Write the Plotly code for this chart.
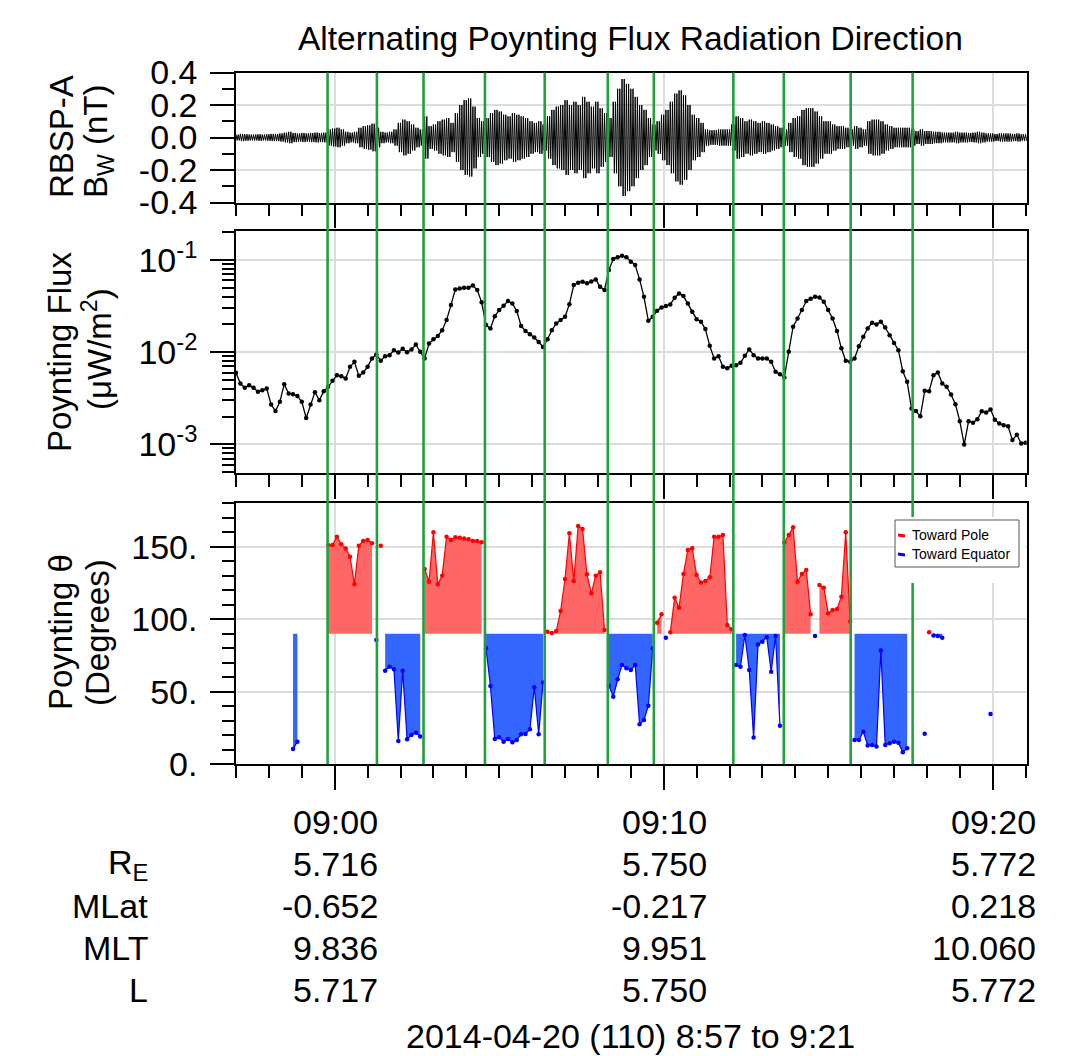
import numpy as np
import pandas as pd
import plotly.graph_objects as go

W, H = 1068, 1056
FONT = "Liberation Sans, Arial, Helvetica, sans-serif"

# ---------------- data ----------------
START = "2014-04-20 08:57:00"
CADENCE_S = 8
RANGE_X = ["2014-04-20 08:57:00", "2014-04-20 09:21:02"]

# Poynting flux (uW/m^2), one value every 8 s
flux = [0.00596,0.00456,0.00410,0.00438,0.00410,0.00371,0.00386,0.00403,0.00270,0.00230,
        0.00289,0.00449,0.00355,0.00350,0.00335,0.00289,0.00193,0.00270,0.00368,0.00301,
        0.00377,0.00420,0.00488,0.00562,0.00548,0.00517,0.00693,0.00785,0.00553,0.00601,
        0.00693,0.00853,0.00943,0.00805,0.00905,0.00928,0.0105,0.00992,0.0109,0.0100,
        0.0107,0.0121,0.0101,0.00853,0.0124,0.0138,0.0150,0.0173,0.0223,0.0324,
        0.0480,0.0492,0.0500,0.0500,0.0530,0.0472,0.0347,0.0197,0.0181,0.0246,
        0.0286,0.0319,0.0358,0.0338,0.0279,0.0192,0.0170,0.0156,0.0144,0.0129,
        0.0114,0.0138,0.0173,0.0205,0.0223,0.0242,0.0332,0.0535,0.0567,0.0581,
        0.0558,0.0586,0.0616,0.0513,0.0472,0.0778,0.1025,0.1069,0.1115,0.1069,
        0.0959,0.0882,0.0616,0.0399,0.0219,0.0242,0.0281,0.0306,0.0316,0.0330,
        0.0390,0.0434,0.0406,0.0338,0.0274,0.0228,0.0214,0.0178,0.0117,0.00853,
        0.00905,0.00693,0.00670,0.00710,0.00722,0.00766,0.00912,0.0107,0.00928,0.00853,
        0.00853,0.00853,0.00785,0.00611,0.00577,0.00530,0.0101,0.0189,0.0232,0.0286,
        0.0358,0.0380,0.0399,0.0393,0.0352,0.0286,0.0232,0.0170,0.0110,0.00805,
        0.00785,0.00853,0.0116,0.0147,0.0181,0.0208,0.0200,0.0214,0.0185,0.0153,
        0.0126,0.0105,0.00621,0.00476,0.00244,0.00230,0.00201,0.00380,0.00377,0.00562,
        0.00601,0.00456,0.00420,0.00347,0.00272,0.00178,0.000992,0.00178,0.00171,0.00187,
        0.00228,0.00221,0.00238,0.00185,0.00168,0.00161,0.00157,0.00111,0.00127,0.00102,
        0.00104]

# Bw wave envelope amplitude (nT) per 8 s bin
bw_envelope = [0.018,0.022,0.02,0.018,0.018,0.02,0.018,0.02,0.022,0.022,
               0.025,0.03,0.035,0.028,0.025,0.028,0.025,0.028,0.03,0.028,
               0.03,0.05,0.055,0.06,0.05,0.035,0.03,0.035,0.06,0.07,
               0.075,0.085,0.06,0.035,0.03,0.035,0.05,0.09,0.11,0.1,
               0.08,0.06,0.05,0.13,0.07,0.08,0.1,0.11,0.12,0.09,
               0.15,0.2,0.23,0.24,0.19,0.12,0.1,0.12,0.15,0.17,
               0.16,0.14,0.13,0.15,0.14,0.13,0.12,0.1,0.09,0.1,
               0.08,0.13,0.17,0.19,0.2,0.23,0.2,0.22,0.2,0.25,
               0.22,0.19,0.22,0.18,0.15,0.12,0.22,0.3,0.36,0.33,
               0.3,0.25,0.2,0.17,0.12,0.08,0.1,0.14,0.17,0.22,
               0.27,0.29,0.26,0.2,0.14,0.12,0.09,0.05,0.045,0.045,
               0.05,0.05,0.05,0.08,0.13,0.12,0.1,0.11,0.1,0.09,
               0.1,0.09,0.08,0.07,0.06,0.05,0.09,0.12,0.13,0.17,
               0.18,0.18,0.16,0.13,0.1,0.1,0.08,0.07,0.07,0.06,
               0.05,0.07,0.06,0.05,0.1,0.11,0.11,0.1,0.08,0.07,
               0.06,0.06,0.06,0.06,0.05,0.04,0.05,0.04,0.04,0.035,
               0.035,0.03,0.03,0.03,0.035,0.03,0.03,0.028,0.03,0.035,
               0.03,0.025,0.025,0.022,0.025,0.025,0.025,0.022,0.025,0.02,
               0.02]

# Poynting theta (degrees): (start sample index, values)
POLE_SEGMENTS = [
    (21, [151.2, 151.2, 157.0, 151.7, 148.9, 143.2, 124.1, 150.8, 154.0, 154.7, 152.4]),
    (33, [150.8]),
    (43, [134.7, 125.9, 160.0, 124.1, 130.1, 157.0, 154.7, 156.5, 156.3, 155.8, 155.2, 154.0, 154.0, 153.1]),
    (71, [91.5, 90.5, 91.9, 105.7, 127.8, 159.3, 126.4, 164.4, 162.3, 131.0, 117.9, 130.1, 132.4, 92.6]),
    (96, [97.7, 103.4]),
    (99, [91.0, 114.9, 108.0, 131.3, 147.8, 149.0, 130.6, 125.3, 126.4, 129.0, 157.0, 157.0, 158.1, 96.1, 93.1]),
    (125, [152.9, 158.1, 163.4, 125.9, 131.3, 134.0, 103.4]),
    (133, [123.7, 121.8, 104.1, 106.4, 107.1, 115.6, 160.0, 98.4]),
    (158, [91.0]),
]
EQUATOR_SEGMENTS = [
    (13, [10.6, 15.6]),
    (32, [85.7]),
    (34, [64.6, 67.3, 65.5, 16.1, 64.6, 17.2, 20.2, 21.8, 19.1]),
    (57, [80.0, 54.0, 17.4, 18.6, 15.6, 17.4, 15.2, 16.8, 20.7, 20.9, 24.1, 53.1, 20.7, 56.5]),
    (85, [54.2, 46.6, 58.6, 68.5, 66.2, 65.0, 68.5, 27.6, 30.6, 40.4, 80.0]),
    (98, [87.3]),
    (114, [68.5, 67.3, 89.2, 65.0, 18.4, 82.7, 84.6, 87.6, 63.9, 88.5, 26.6]),
    (132, [88.5]),
    (141, [16.8, 16.8, 22.5, 12.9, 13.3, 12.2, 78.4, 13.3, 14.5, 15.6, 14.9, 8.3, 11.0]),
    (157, [21.1]),
    (159, [88.9, 88.5, 87.3]),
    (172, [34.7]),
]
THETA_BASE = 90

GREEN_TIMES = ["08:59:47", "09:01:17", "09:02:42", "09:04:34", "09:06:23", "09:08:18",
               "09:09:42", "09:12:07", "09:13:39", "09:15:41", "09:17:34"]

EPH_TIMES = ["09:00", "09:10", "09:20"]
EPH_ROWS = [
    ("R<sub>E</sub>", ["5.716", "5.750", "5.772"]),
    ("MLat", ["-0.652", "-0.217", "0.218"]),
    ("MLT", ["9.836", "9.951", "10.060"]),
    ("L", ["5.717", "5.750", "5.772"]),
]
DATE_LINE = "2014-04-20 (110) 8:57 to 9:21"
TITLE = "Alternating Poynting Flux Radiation Direction"

# ---------------- helpers ----------------
def px(x):
    return x / W

def py(y):
    return 1 - y / H

DAY = START[:10]
times = pd.Timestamp(START) + pd.to_timedelta(np.arange(len(flux)) * CADENCE_S, unit="s")

def full_series(segments):
    arr = [None] * len(times)
    for s, vals in segments:
        for k, v in enumerate(vals):
            arr[s + k] = v
    return arr

X_DOM = [px(236), px(1026.7)]
Y1_DOM = [py(202.5), py(72.5)]
Y2_DOM = [py(473.3), py(231)]
Y3_DOM = [py(764.3), py(503.3)]

GRID = "#dcdcdc"
GREEN = "#22a03a"
RED, RED_FILL = "#ff0000", "#ff6666"
BLUE, BLUE_FILL = "#0000ff", "#3366ff"

fig = go.Figure()

# --- top: wave field, drawn as alternating +/- envelope strokes within each bin
SUB = 4
step = pd.Timedelta(seconds=CADENCE_S / SUB)
wx, wy = [], []
for t, a in zip(times, bw_envelope):
    for k in range(SUB):
        wx.append(t + k * step)
        wy.append(a if k % 2 == 0 else -a)
fig.add_trace(go.Scatter(x=wx, y=wy, mode="lines", line=dict(color="black", width=1),
                         xaxis="x", yaxis="y", hoverinfo="skip"))

# --- middle: Poynting flux
fig.add_trace(go.Scatter(x=times, y=flux, mode="lines+markers",
                         line=dict(color="black", width=1.3),
                         marker=dict(color="black", size=4.5),
                         xaxis="x2", yaxis="y2"))

# --- bottom: theta with fills to 90
for segs, fc in ((POLE_SEGMENTS, RED_FILL), (EQUATOR_SEGMENTS, BLUE_FILL)):
    for s, vals in segs:
        if len(vals) < 2:
            continue
        ts = list(times[s:s + len(vals)])
        fig.add_trace(go.Scatter(x=[ts[0]] + ts + [ts[-1]],
                                 y=[THETA_BASE] + vals + [THETA_BASE],
                                 fill="toself", fillcolor=fc, mode="lines",
                                 line=dict(width=0, color=fc), hoverinfo="skip",
                                 xaxis="x3", yaxis="y3"))
fig.add_trace(go.Scatter(x=times, y=full_series(POLE_SEGMENTS), mode="lines+markers",
                         line=dict(color=RED, width=1.2), marker=dict(color=RED, size=4.5),
                         connectgaps=False, name="Toward Pole", xaxis="x3", yaxis="y3"))
fig.add_trace(go.Scatter(x=times, y=full_series(EQUATOR_SEGMENTS), mode="lines+markers",
                         line=dict(color=BLUE, width=1.2), marker=dict(color=BLUE, size=4.5),
                         connectgaps=False, name="Toward Equator", xaxis="x3", yaxis="y3"))

# ---------------- axes ----------------
TICKFONT = dict(family=FONT, size=34, color="black")
common_x = dict(type="date", range=RANGE_X, domain=X_DOM, showgrid=True, gridcolor=GRID,
                gridwidth=1.5, tick0=DAY + " 09:00:00", dtick=600000, ticks="outside",
                ticklen=24, tickwidth=1.5, tickcolor="black", showticklabels=False,
                showline=True, linecolor="black", linewidth=1.5, mirror=True, zeroline=False,
                automargin=False,
                minor=dict(dtick=60000, tick0=DAY + " 09:00:00", ticks="outside", ticklen=12,
                           tickwidth=1.5, tickcolor="black", showgrid=False))
common_y = dict(ticks="outside", ticklen=24, tickwidth=1.5, tickcolor="black",
                showline=True, linecolor="black", linewidth=1.5, mirror=True,
                showgrid=True, gridcolor=GRID, gridwidth=1.5, zeroline=False,
                tickfont=TICKFONT, tickmode="array", ticklabelstandoff=6, automargin=False)

decades = [1e-3, 1e-2, 1e-1]
log_minor = [m * d for d in [1e-4, 1e-3, 1e-2, 1e-1] for m in range(2, 10)]

fig.update_layout(
    template="none",
    width=W, height=H, margin=dict(l=0, r=0, t=0, b=0, pad=0, autoexpand=False),
    paper_bgcolor="white", plot_bgcolor="white", showlegend=False,
    font=dict(family=FONT, color="black"),
    xaxis=dict(common_x, anchor="y"),
    xaxis2=dict(common_x, anchor="y2"),
    xaxis3=dict(common_x, anchor="y3"),
    yaxis=dict(common_y, domain=Y1_DOM, anchor="x", range=[-0.4, 0.4],
               tickvals=[-0.4, -0.2, 0, 0.2, 0.4],
               ticktext=["-0.4", "-0.2", "0.0", "0.2", "0.4"],
               minor=dict(tickmode="array", tickvals=[-0.3, -0.1, 0.1, 0.3], ticks="outside",
                          ticklen=12, tickwidth=1.5, tickcolor="black", showgrid=False)),
    yaxis2=dict(common_y, domain=Y2_DOM, anchor="x2", type="log", range=[-3.315, -0.685],
                tickvals=decades, ticktext=["10<sup>-3</sup>", "10<sup>-2</sup>", "10<sup>-1</sup>"],
                minor=dict(tickmode="array", tickvals=log_minor, ticks="outside",
                           ticklen=12, tickwidth=1.5, tickcolor="black", showgrid=False)),
    yaxis3=dict(common_y, domain=Y3_DOM, anchor="x3", range=[0, 180],
                tickvals=[0, 50, 100, 150], ticktext=["0.", "50.", "100.", "150."],
                minor=dict(tickmode="linear", tick0=0, dtick=10, ticks="outside",
                           ticklen=12, tickwidth=1.5, tickcolor="black", showgrid=False)),
)

# ---------------- shapes ----------------
shapes = []
for g in GREEN_TIMES:
    shapes.append(dict(type="line", xref="x3", yref="paper", x0=f"{DAY} {g}", x1=f"{DAY} {g}",
                       y0=Y3_DOM[0], y1=Y1_DOM[1], line=dict(color=GREEN, width=2.6), layer="above"))
# legend
shapes.append(dict(type="rect", xref="paper", yref="paper", x0=px(895), x1=px(1025.5),
                   y0=py(583), y1=py(517), fillcolor="white", line=dict(width=0), layer="above"))
shapes.append(dict(type="rect", xref="paper", yref="paper", x0=px(895), x1=px(1019),
                   y0=py(567), y1=py(520), fillcolor="white", line=dict(color="#555555", width=1),
                   layer="above"))
for yy, c in ((535, RED), (554, BLUE)):
    shapes.append(dict(type="line", xref="paper", yref="paper", x0=px(898), x1=px(905),
                       y0=py(yy), y1=py(yy + 1), line=dict(color=c, width=3), layer="above"))
fig.update_layout(shapes=shapes)

# ---------------- annotations ----------------
ann = []
def text(x, y, s, size=34, xanchor="center", angle=0, xref="paper", xshift=0):
    ann.append(dict(x=x, y=y, xref=xref, yref="paper", text=s, showarrow=False,
                    xanchor=xanchor, yanchor="middle", textangle=angle, xshift=xshift,
                    font=dict(family=FONT, size=size, color="black")))

text(px(630), py(38), TITLE, size=33.5)
text(px(61), py(137), "RBSP-A", size=33, angle=-90)
text(px(98), py(141), "B<sub>W</sub> (nT)", size=33, angle=-90)
text(px(60), py(352), "Poynting Flux", size=33, angle=-90)
text(px(97), py(349), "(μW/m<sup>2</sup>)", size=33, angle=-90)
text(px(60), py(632), "Poynting θ", size=33, angle=-90)
text(px(97), py(633), "(Degrees)", size=33, angle=-90)

ROW_Y = [864, 906, 948, 990]
for tlab in EPH_TIMES:
    text(f"{DAY} {tlab}:00", py(822), tlab, xanchor="right", xref="x3", xshift=45)
for (lab, vals), yy in zip(EPH_ROWS, ROW_Y):
    text(px(150), py(yy), lab, xanchor="right")
    for tlab, v in zip(EPH_TIMES, vals):
        text(f"{DAY} {tlab}:00", py(yy), v, xanchor="right", xref="x3", xshift=45)
text(px(630), py(1036), DATE_LINE)

text(px(910), py(534.5), "Toward Pole", size=14, xanchor="left")
text(px(910), py(554), "Toward Equator", size=14, xanchor="left")
fig.update_layout(annotations=ann)

fig.write_html("out.html")
